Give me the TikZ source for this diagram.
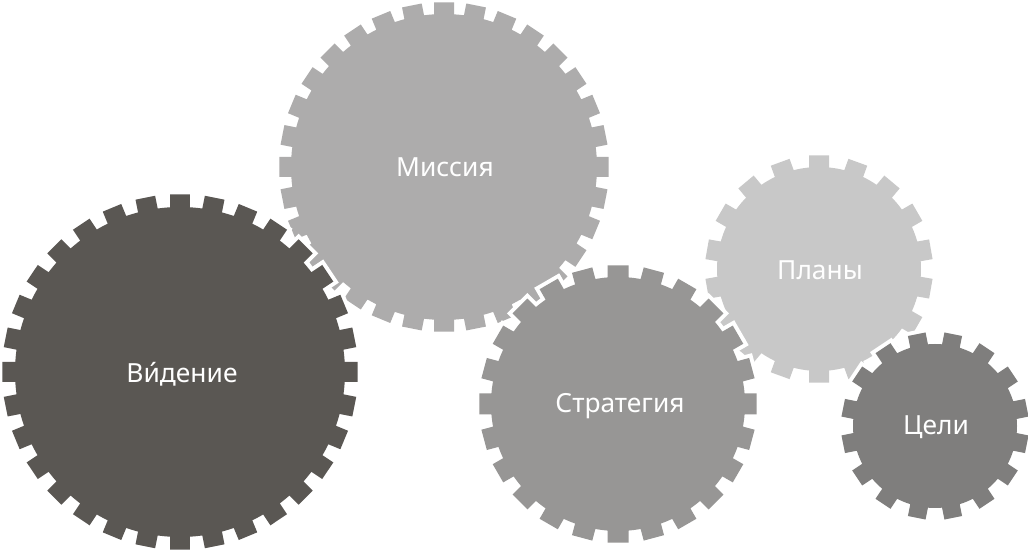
\documentclass[tikz,border=0pt]{standalone}
\usepackage{fontspec}
\setmainfont{Noto Sans}
\definecolor{vision}{HTML}{5A5753}
\definecolor{mission}{HTML}{ADACAC}
\definecolor{strategy}{HTML}{979695}
\definecolor{plans}{HTML}{C8C8C8}
\definecolor{goals}{HTML}{7F7E7D}
\tikzset{
  gear/.style={fill=#1, preaction={draw=white, line width=4.5pt, line join=miter}},
  gearlabel/.style={text=white, anchor=base, font=\fontsize{15}{17}\selectfont}
}
% #1 centre, #2 inner r, #3 outer r, #4 teeth, #5 offset, #6 half width, #7 colour
\newcommand\gear[7]{%
  \pgfmathsetmacro\gp{360/#4}
  \pgfmathsetmacro\gdi{asin(#6/#2)}
  \pgfmathsetmacro\gdo{asin(#6/#3)}
  \path[gear=#7, shift={#1}] ({#5-\gdi}:#2)
    \foreach \k in {1,...,#4}{
      -- ({#5+(\k-1)*\gp-\gdo}:#3) -- ({#5+(\k-1)*\gp+\gdo}:#3) -- ({#5+(\k-1)*\gp+\gdi}:#2)
      arc[start angle={#5+(\k-1)*\gp+\gdi}, end angle={#5+\k*\gp-\gdi}, radius=#2]
    } -- cycle;
}
\begin{document}
\begin{tikzpicture}[x=0.02cm, y=0.02cm]
  \useasboundingbox (0,0) rectangle (1028,550);
  \gear{(444,383)}{153}{165}{32}{0}{10}{mission}
  \gear{(819,281)}{102}{114}{18}{10}{10}{plans}
  \gear{(180,178)}{165}{178}{32}{0}{10}{vision}
  \gear{(618,146)}{127}{139}{24}{0}{10.5}{strategy}
  \gear{(935,124)}{82}{94}{16}{11.25}{9}{goals}
  \node[gearlabel] (vision) at (182,167) {Ви́дение};
  \node[gearlabel] (mission) at (445,373) {Миссия};
  \node[gearlabel] (strategy) at (620,137) {Стратегия};
  \node[gearlabel] (plans) at (820,270) {Планы};
  \node[gearlabel] (goals) at (936,115) {Цели};
\end{tikzpicture}
\end{document}
